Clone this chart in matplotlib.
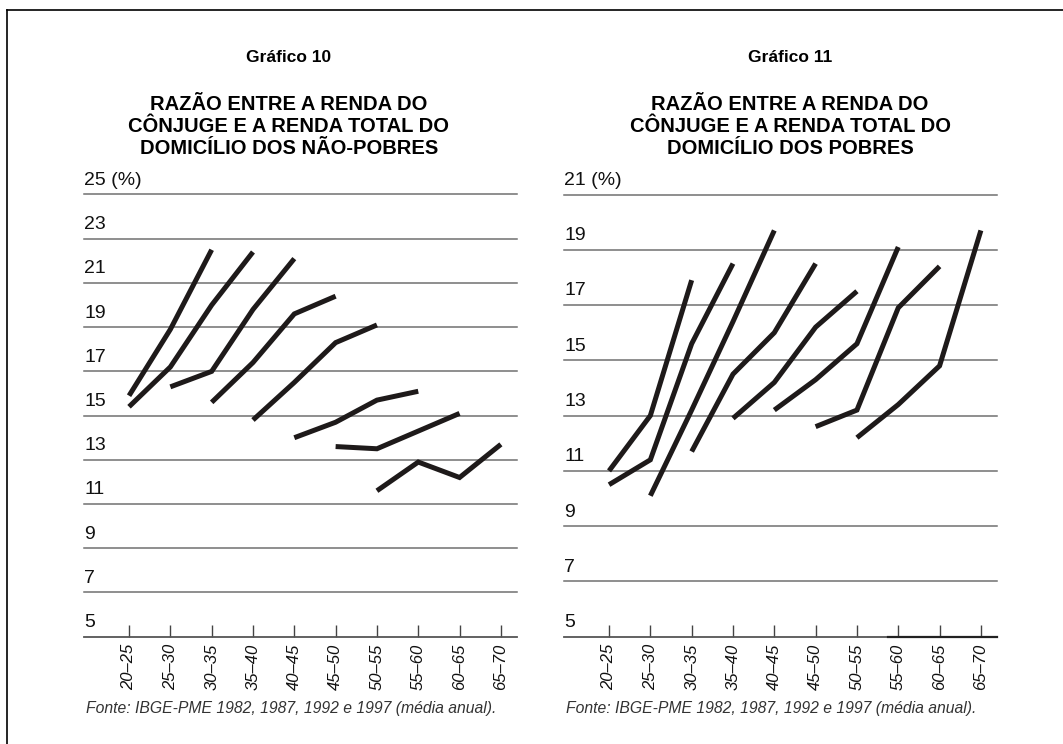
#! /usr/bin/env python
import matplotlib
matplotlib.use("Agg")
import matplotlib.pyplot as plt
from matplotlib.lines import Line2D

plt.rcParams['font.family'] = ['Liberation Sans', 'DejaVu Sans']

# faixas etarias (eixo x)
idades = ["20–25", "25–30", "30–35", "35–40", "40–45",
          "45–50", "50–55", "55–60", "60–65", "65–70"]

# Grafico 10 - nao-pobres: cada coorte comeca numa faixa etaria (1982, 1987, 1992, 1997)
nao_pobres_inicio = [0, 0, 1, 2, 3, 4, 5, 6]
nao_pobres_valores = [
    [15.9, 18.9, 22.5],
    [15.4, 17.2, 20.0, 22.4],
    [16.3, 17.0, 19.8, 22.1],
    [15.6, 17.4, 19.6, 20.4],
    [14.8, 16.5, 18.3, 19.1],
    [14.0, 14.7, 15.7, 16.1],
    [13.6, 13.5, 14.3, 15.1],
    [11.6, 12.9, 12.2, 13.7],
]

# Grafico 11 - pobres
pobres_inicio = [0, 0, 1, 2, 3, 4, 5, 6]
pobres_valores = [
    [11.0, 13.0, 17.9],
    [10.5, 11.4, 15.6, 18.5],
    [10.1, 13.2, 16.4, 19.7],
    [11.7, 14.5, 16.0, 18.5],
    [12.9, 14.2, 16.2, 17.5],
    [13.2, 14.3, 15.6, 19.1],
    [12.6, 13.2, 16.9, 18.4],
    [12.2, 13.4, 14.8, 19.7],
]

painel_10 = dict(titulo="Gráfico 10",
                 subtitulo=["RAZÃO ENTRE A RENDA DO", "CÔNJUGE E A RENDA TOTAL DO",
                            "DOMICÍLIO DOS NÃO-POBRES"],
                 ymax=25, inicio=nao_pobres_inicio, valores=nao_pobres_valores)
painel_11 = dict(titulo="Gráfico 11",
                 subtitulo=["RAZÃO ENTRE A RENDA DO", "CÔNJUGE E A RENDA TOTAL DO",
                            "DOMICÍLIO DOS POBRES"],
                 ymax=21, inicio=pobres_inicio, valores=pobres_valores)

fonte = "Fonte: IBGE-PME 1982, 1987, 1992 e 1997 (média anual)."

W, H = 1063, 744
fig = plt.figure(figsize=(W / 100, H / 100), dpi=100)

# moldura (topo e lado esquerdo)
fig.add_artist(Line2D([7 / W, 1], [1 - 10 / H, 1 - 10 / H], color='black', lw=1.2))
fig.add_artist(Line2D([7 / W, 7 / W], [0, 1 - 10 / H], color='black', lw=1.2))

linha_cor = '#1e1a1a'
grade_cor = '#707070'

for k, p in enumerate([painel_10, painel_11]):
    x0 = 84 + 480 * k
    ax = fig.add_axes([x0 / W, (H - 636.7) / H, 433 / W, 442.2 / H])
    ax.set_xlim(-1.09, 9.39)
    ax.set_ylim(5, p['ymax'])

    yt = list(range(5, p['ymax'] + 1, 2))
    for v in yt[1:]:
        ax.axhline(v, color=grade_cor, lw=1.1, zorder=1, clip_on=False)
    for v in yt:
        lab = "%d (%%)" % v if v == p['ymax'] else str(v)
        ax.annotate(lab, (0, v), xycoords=ax.get_yaxis_transform(),
                    xytext=(0, 4), textcoords='offset points',
                    ha='left', va='bottom', fontsize=14, color='#111111')

    for s, vals in zip(p['inicio'], p['valores']):
        xs = list(range(s, s + len(vals)))
        ax.plot(xs, vals, color=linha_cor, lw=3.6, solid_capstyle='butt',
                solid_joinstyle='miter', zorder=3)

    for sp in ['top', 'right', 'left']:
        ax.spines[sp].set_visible(False)
    ax.spines['bottom'].set_color('#555555')
    ax.spines['bottom'].set_linewidth(1.3)
    if k == 1:
        # trecho mais escuro do eixo no grafico 11
        ax.plot([6.75, 9.39], [5, 5], color='#222222', lw=1.6, clip_on=False, zorder=4)

    ax.set_yticks([])
    ax.set_xticks(range(len(idades)))
    ax.set_xticklabels(idades, rotation=90, fontstyle='italic', fontsize=12,
                       color='#111111')
    ax.tick_params(axis='x', direction='in', length=9, width=1.0,
                   color='#444444', pad=5)

    cx = (289 + 501 * k) / W
    fig.text(cx, 1 - 57 / H, p['titulo'], ha='center', va='center',
             fontsize=12.5, fontweight='bold')
    for j, linha in enumerate(p['subtitulo']):
        fig.text(cx, 1 - (104 + 22.5 * j) / H, linha, ha='center', va='center',
                 fontsize=14.5, fontweight='bold')
    fig.text((86 + 480 * k) / W, 1 - 708 / H, fonte, ha='left', va='center',
             fontsize=11.3, fontstyle='italic', color='#333333')

fig.savefig('out.png', dpi=100)
